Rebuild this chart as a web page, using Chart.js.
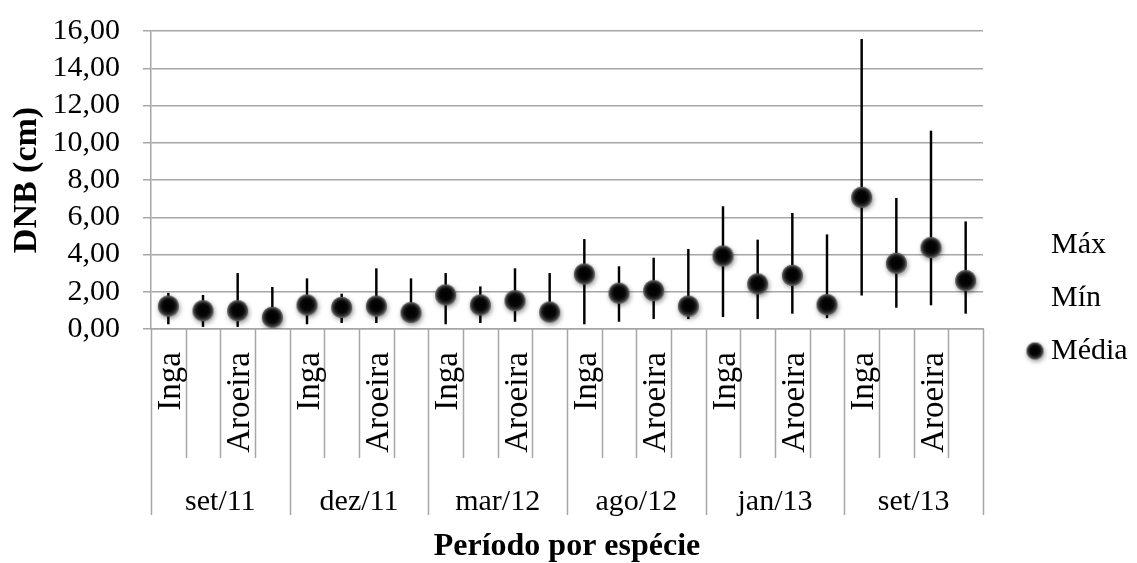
<!DOCTYPE html>
<html>
<head>
<meta charset="utf-8">
<script src="https://cdn.jsdelivr.net/npm/chart.js@4/dist/chart.umd.min.js"></script>
<style>
  html, body { margin: 0; padding: 0; background: #fff; }
  #wrap { width: 1137px; height: 563px; }
</style>
</head>
<body>
<div id="wrap"><canvas id="c" width="1137" height="563"></canvas></div>
<script>
// Sampling periods and species shown inside each period
const periods = ['set/11', 'dez/11', 'mar/12', 'ago/12', 'jan/13', 'set/13'];
const species = ['Inga', '', 'Aroeira', ''];

// DNB (cm) per period × species: maximum, minimum and mean
const maxValues  = [1.92, 1.81, 2.99, 2.24,  2.70, 1.88, 3.24, 2.70,  2.99, 2.27, 3.24, 2.99,
                    4.81, 3.35, 3.81, 4.28,  6.57, 4.78, 6.21, 5.06, 15.55, 7.02, 10.63, 5.76];
const minValues  = [0.27, 0.13, 0.13, 0.20,  0.27, 0.34, 0.34, 0.40,  0.27, 0.34, 0.41, 0.40,
                    0.27, 0.41, 0.55, 0.55,  0.66, 0.55, 0.84, 0.60,  1.81, 1.16, 1.29, 0.84];
const meanValues = [1.23, 0.98, 0.98, 0.63,  1.29, 1.16, 1.23, 0.88,  1.83, 1.29, 1.52, 0.91,
                    2.95, 1.92, 2.06, 1.23,  3.92, 2.42, 2.88, 1.31,  7.07, 3.53, 4.37, 2.60];

// y axis: 0,00 … 16,00 every 2
const yMin = 0, yMax = 16, yStep = 2;

const FONT = 'Liberation Serif';
const GRID = '#a6a6a6';

// one category per period/species pair
const labels = periods.flatMap(p => species.map((s, j) => p + ' ' + (s || ('#' + j))));

// glossy black ball used as the mean marker
function makeSphere(r) {
  const pad = 7;
  const size = 2 * (r + pad);
  const c = document.createElement('canvas');
  c.width = size; c.height = size;
  const g = c.getContext('2d');
  const cx = size / 2, cy = size / 2;
  g.save();
  g.shadowColor = 'rgba(0,0,0,0.45)';
  g.shadowBlur = 5;
  g.shadowOffsetX = 1;
  g.shadowOffsetY = 2;
  g.beginPath(); g.arc(cx, cy, r, 0, Math.PI * 2);
  g.fillStyle = '#333'; g.fill();
  g.restore();
  const grad = g.createRadialGradient(cx, cy - r * 0.1, 0, cx, cy, r);
  grad.addColorStop(0, '#000');
  grad.addColorStop(0.55, '#060606');
  grad.addColorStop(0.8, '#2c2c2c');
  grad.addColorStop(1, '#707070');
  g.beginPath(); g.arc(cx, cy, r, 0, Math.PI * 2);
  g.fillStyle = grad; g.fill();
  return c;
}
const sphere = makeSphere(10.5);
const legendSphere = makeSphere(8.5);

// two-level category axis: species (rotated) above periods, with separators
const groupedAxis = {
  id: 'groupedAxis',
  afterDraw(chart) {
    const ctx = chart.ctx;
    const xs = chart.scales.x;
    const n = labels.length;
    const w = (xs.getPixelForValue(n - 1) - xs.getPixelForValue(0)) / (n - 1);
    const top = xs.top;
    ctx.save();
    ctx.strokeStyle = GRID;
    ctx.lineWidth = 1.5;
    for (let i = 0; i <= n; i++) {
      const x = Math.round(xs.getPixelForValue(Math.min(i, n - 1)) + (i === n ? w / 2 : -w / 2)) + 0.5;
      const isGroup = i % species.length === 0;
      ctx.beginPath();
      ctx.moveTo(x, top);
      ctx.lineTo(x, top + (isGroup ? 186 : 129));
      ctx.stroke();
    }
    ctx.fillStyle = '#000';
    // species names, rotated, ending near the axis
    ctx.font = '33px "' + FONT + '"';
    ctx.textAlign = 'right';
    ctx.textBaseline = 'middle';
    for (let i = 0; i < n; i++) {
      const name = species[i % species.length];
      if (!name) continue;
      ctx.save();
      ctx.translate(xs.getPixelForValue(i) + 3, top + 23);
      ctx.rotate(-Math.PI / 2);
      ctx.fillText(name, 0, 0);
      ctx.restore();
    }
    // period names centred under their group
    ctx.font = '30px "' + FONT + '"';
    ctx.textAlign = 'center';
    periods.forEach((p, k) => {
      const a = xs.getPixelForValue(k * species.length);
      const b = xs.getPixelForValue(k * species.length + species.length - 1);
      ctx.fillText(p, (a + b) / 2, top + 173);
    });
    ctx.restore();
  }
};

// legend on the right: Máx and Mín have no symbol, Média shows the ball
const sideLegend = {
  id: 'sideLegend',
  afterDraw(chart) {
    const ctx = chart.ctx;
    const area = chart.chartArea;
    const order = ['Máx', 'Mín', 'Média'];
    const x0 = area.right + 68;
    const y0 = 245, step = 53;
    ctx.save();
    ctx.font = '30px "' + FONT + '"';
    ctx.fillStyle = '#000';
    ctx.textAlign = 'left';
    ctx.textBaseline = 'middle';
    order.forEach((name, k) => {
      const ds = chart.data.datasets.find(d => d.label === name);
      const y = y0 + k * step;
      if (ds && ds.pointRadius > 0) {
        ctx.drawImage(legendSphere, x0 - 16 - legendSphere.width / 2, y - legendSphere.height / 2);
      }
      ctx.fillText(name, x0, y);
    });
    ctx.restore();
  }
};

new Chart(document.getElementById('c'), {
  type: 'bar',
  data: {
    labels: labels,
    datasets: [
      {
        type: 'line', label: 'Média', data: meanValues,
        showLine: false, pointStyle: sphere, pointRadius: 10.5, order: 0
      },
      {
        type: 'line', label: 'Máx', data: maxValues,
        showLine: false, pointRadius: 0, order: 1
      },
      {
        type: 'line', label: 'Mín', data: minValues,
        showLine: false, pointRadius: 0, order: 2
      },
      {
        type: 'bar', label: 'Máx–Mín', data: maxValues.map((v, i) => [minValues[i], v]),
        backgroundColor: '#000', borderWidth: 0, barThickness: 1.8, order: 3
      }
    ]
  },
  options: {
    responsive: false,
    animation: false,
    devicePixelRatio: 1,
    layout: { padding: { top: 31, right: 154, bottom: 0, left: 0 } },
    plugins: {
      legend: { display: false },
      tooltip: { enabled: false }
    },
    scales: {
      x: {
        offset: true,
        grid: { display: false },
        border: { display: true, color: GRID, width: 1.5 },
        ticks: { display: false },
        title: {
          display: true, text: 'Período por espécie', color: '#000',
          font: { family: FONT, size: 32, weight: 'bold', lineHeight: 1 },
          padding: { top: 0, bottom: 0 }
        },
        afterFit: s => { s.height = 234; }
      },
      y: {
        min: yMin, max: yMax,
        ticks: {
          stepSize: yStep, autoSkip: false,
          color: '#000', padding: 23,
          font: { family: FONT, size: 30, lineHeight: 1 },
          callback: v => Number(v).toFixed(2).replace('.', ',')
        },
        grid: { color: GRID, lineWidth: 1.5, tickLength: 8, drawTicks: true },
        border: { color: GRID, width: 1.5 },
        title: {
          display: true, text: 'DNB (cm)', color: '#000',
          font: { family: FONT, size: 34, weight: 'bold', lineHeight: 1.2 },
          padding: { top: 7, bottom: 0 }
        },
        afterFit: s => { s.width = 151; s.paddingTop = 15; s.paddingBottom = 15; }
      }
    }
  },
  plugins: [groupedAxis, sideLegend]
});
</script>
</body>
</html>
